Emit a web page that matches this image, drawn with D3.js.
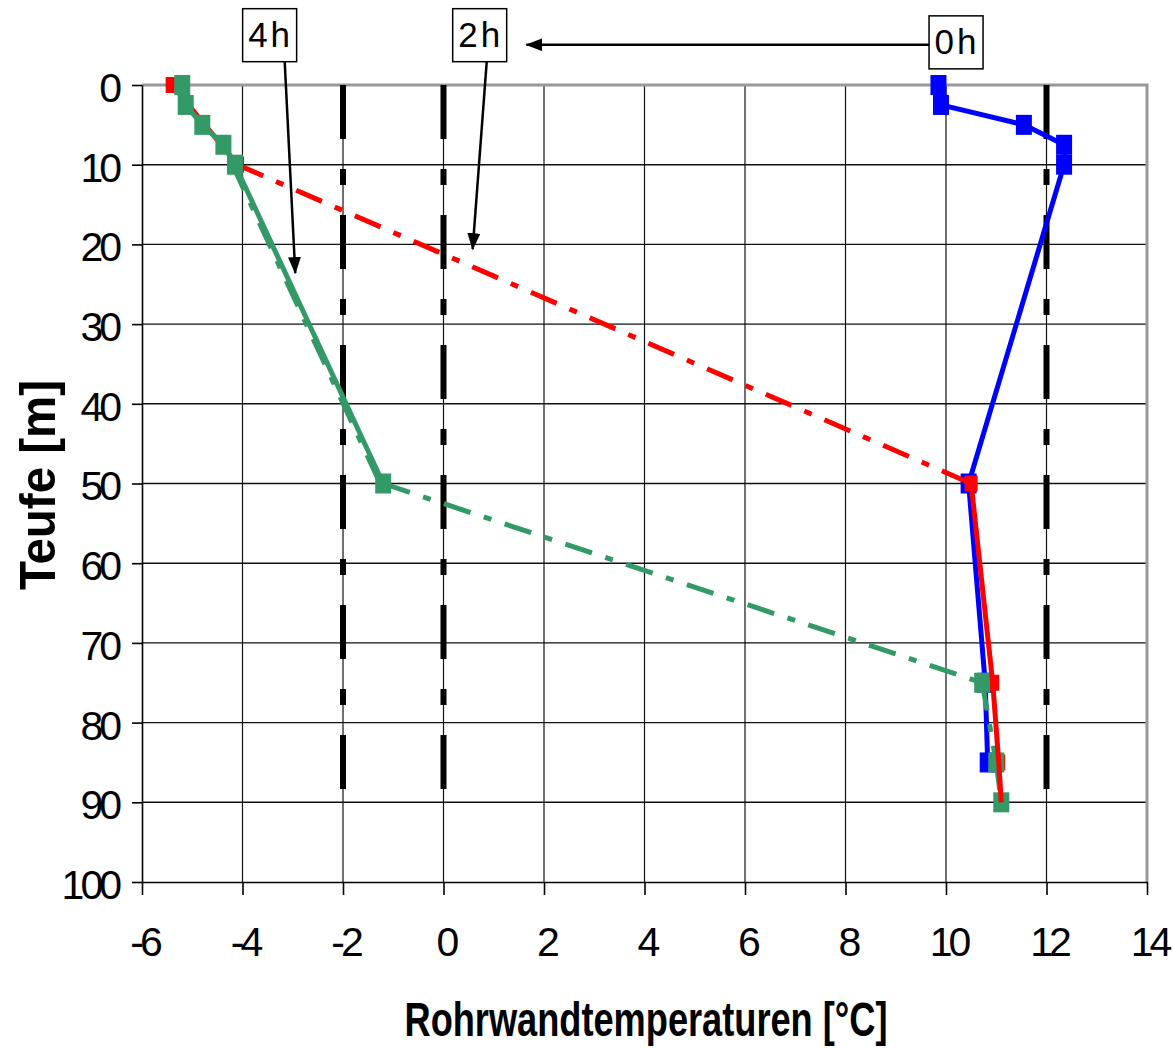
<!DOCTYPE html>
<html><head><meta charset="utf-8">
<script src="https://cdn.jsdelivr.net/npm/d3@7"></script>
<style>
body{margin:0;background:#fff}
svg{display:block}
text{font-family:"Liberation Sans",Arial,sans-serif}
</style>
</head><body><svg id="c" width="1173" height="1048"></svg>
<script>
// ---------- data ----------
const xTicks = [-6,-4,-2,0,2,4,6,8,10,12,14];
const yTicks = [0,10,20,30,40,50,60,70,80,90,100];

// thick dashed reference lines (temperature, depth range)
const refTemps = [-2, 0, 12];
const refDepths = [0, 90];

// 0h (blue)
const depth0h = [0, 2.5, 5, 7.5, 10, 50, 75, 85];
const temp0h  = [9.85, 9.9, 11.55, 12.35, 12.35, 10.45, 10.78, 10.83];

// 2h (red)
const depth2h = [0, 10, 50, 75, 85, 90];
const temp2h  = [-5.4, -4.1, 10.5, 10.93, 11.05, 11.1];
const style2h = ['solid', 'dashdot', 'solid', 'solid', 'solid'];

// 4h (green)
const depth4h = [0, 2.5, 5, 7.5, 10, 50, 75, 85, 90];
const temp4h  = [-5.2, -5.13, -4.8, -4.38, -4.15, -1.2, 10.72, 11.0, 11.1];
const style4h = ['solid', 'solid', 'solid', 'solid', 'solid', 'dashdot', 'dashdot', 'dashdot'];

// 4h second (dash-dot) trace between 10 and 50 m
const depth4hB = [10, 50];
const temp4hB  = [-4.2, -1.26];

// annotations
const labelText = ['4h', '2h', '0h'];
const labelX = [-3.46, 0.72, 10.2];
const labelY = [-6.25, -6.25, -5.35];
const arrowFromX = [-3.16, 0.86, 9.67];
const arrowFromY = [-2.9, -2.9, -5.05];
const arrowToX = [-2.95, 0.58, 1.65];
const arrowToY = [23.6, 20.6, -5.05];

const xTitle = 'Rohrwandtemperaturen [°C]';
const yTitle = 'Teufe [m]';

// ---------- layout ----------
const W = 1173, H = 1048;
const L = 142, R = 1147, T = 85, B = 882;
const svg = d3.select('#c');
svg.append('rect').attr('width', W).attr('height', H).attr('fill', '#fff');

const x = d3.scaleLinear().domain([-6, 14]).range([L, R]);
const y = d3.scaleLinear().domain([0, 100]).range([T, B]);

const BLUE = '#0000ff', RED = '#ff0000', GREEN = '#339966';

// grid
const grid = svg.append('g');
grid.selectAll('line.v').data(xTicks.filter(d => d > -6 && d < 14)).join('line')
  .attr('x1', d => x(d)).attr('x2', d => x(d)).attr('y1', T).attr('y2', B)
  .attr('stroke', '#111').attr('stroke-width', 1.2);
grid.selectAll('line.h').data(yTicks.filter(d => d > 0 && d < 100)).join('line')
  .attr('x1', L).attr('x2', R).attr('y1', d => y(d)).attr('y2', d => y(d))
  .attr('stroke', '#111').attr('stroke-width', 1.4);
// gray top/right border
svg.append('path').attr('d', `M${L},${T}H${R}V${B}`).attr('fill', 'none')
  .attr('stroke', '#999').attr('stroke-width', 3);

// axes
const yAxis = svg.append('g').attr('transform', `translate(${L},0)`)
  .call(d3.axisLeft(y).tickValues(yTicks).tickSize(10).tickSizeOuter(0).tickPadding(12));
const xAxis = svg.append('g').attr('transform', `translate(0,${B})`)
  .call(d3.axisBottom(x).tickValues(xTicks).tickSize(13).tickSizeOuter(0).tickPadding(22).tickFormat(d3.format('d')));
[yAxis, xAxis].forEach(a => {
  a.select('.domain').attr('stroke', '#000').attr('stroke-width', 1.6);
  a.selectAll('.tick line').attr('stroke', '#000').attr('stroke-width', 1.6);
  a.selectAll('.tick text').attr('font-size', 41).attr('fill', '#000')
    .attr('font-family', '"Liberation Sans",Arial,sans-serif')
    .style('letter-spacing', '-4px');
});
yAxis.selectAll('.tick text').attr('dx', -2).attr('dy', '0.4em');
xAxis.selectAll('.tick text').attr('dy', '0.95em').attr('dx', 2).text(d => d < 0 ? '-' + Math.abs(d) : d);

// reference dashed lines
const lineGen = d3.line().x(d => x(d[0])).y(d => y(d[1]));
svg.append('g').selectAll('path').data(refTemps).join('path')
  .attr('d', t => lineGen(refDepths.map(dp => [t, dp])))
  .attr('stroke', '#000').attr('stroke-width', 6).attr('fill', 'none')
  .attr('stroke-dasharray', '54,30,16,30');

const DASHDOT = '28,14,8,14';
function drawSegments(g, temps, depths, styles, color, width, filter) {
  for (let i = 0; i < temps.length - 1; i++) {
    const st = styles ? styles[i] : 'solid';
    if (filter && !filter(i, st)) continue;
    g.append('path')
      .attr('d', lineGen([[temps[i], depths[i]], [temps[i + 1], depths[i + 1]]]))
      .attr('stroke', color).attr('stroke-width', width).attr('fill', 'none')
      .attr('stroke-dasharray', st === 'dashdot' ? DASHDOT : null);
  }
}
function drawMarkers(g, temps, depths, color, w, h) {
  g.selectAll(null).data(temps.map((t, i) => [t, depths[i]])).join('rect')
    .attr('x', d => x(d[0]) - w / 2).attr('y', d => y(d[1]) - h / 2)
    .attr('width', w).attr('height', h).attr('fill', color);
}

const gData = svg.append('g');
// blue
drawSegments(gData, temp0h, depth0h, null, BLUE, 5);
drawMarkers(gData, temp0h, depth0h, BLUE, 16, 20);
// red lower part (0-50)
drawSegments(gData, temp2h, depth2h, style2h, RED, 5, i => i < 2);
drawMarkers(gData, temp2h, depth2h, RED, 13, 16);
// green
drawSegments(gData, temp4hB, depth4hB, ['dashdot'], GREEN, 5);
drawSegments(gData, temp4h, depth4h, style4h, GREEN, 5);
drawMarkers(gData, temp4h, depth4h, GREEN, 16, 20);
// red upper solid part (50-90) on top
drawSegments(gData, temp2h, depth2h, style2h, RED, 5, i => i >= 2);

// annotations
const defs = svg.append('defs');
defs.append('marker').attr('id', 'ah').attr('markerUnits', 'userSpaceOnUse')
  .attr('viewBox', '0 0 17 13').attr('markerWidth', 17).attr('markerHeight', 13)
  .attr('refX', 16).attr('refY', 6.5).attr('orient', 'auto')
  .append('path').attr('d', 'M0,0L17,6.5L0,13Z').attr('fill', '#000');

const ann = svg.append('g');
labelText.forEach((t, i) => {
  ann.append('line')
    .attr('x1', x(arrowFromX[i])).attr('y1', y(arrowFromY[i]))
    .attr('x2', x(arrowToX[i])).attr('y2', y(arrowToY[i]))
    .attr('stroke', '#000').attr('stroke-width', 2.5).attr('marker-end', 'url(#ah)');
  const cx = x(labelX[i]), cy = y(labelY[i]);
  ann.append('rect').attr('x', cx - 27).attr('y', cy - 26.5).attr('width', 54).attr('height', 53)
    .attr('fill', '#fff').attr('stroke', '#000').attr('stroke-width', 1.5);
  ann.append('text').attr('x', cx + 1).attr('y', cy + 12).attr('text-anchor', 'middle')
    .attr('font-size', 35).style('letter-spacing', '3px').text(t);
});

// titles
svg.append('text').attr('x', 646).attr('y', 1036).attr('text-anchor', 'middle')
  .attr('font-size', 48).attr('font-weight', 'bold')
  .attr('textLength', 483).attr('lengthAdjust', 'spacingAndGlyphs').text(xTitle);
svg.append('text').attr('transform', 'translate(55,485) rotate(-90)').attr('text-anchor', 'middle')
  .attr('font-size', 50).attr('font-weight', 'bold')
  .attr('textLength', 210).attr('lengthAdjust', 'spacingAndGlyphs').text(yTitle);
</script>
</body></html>
